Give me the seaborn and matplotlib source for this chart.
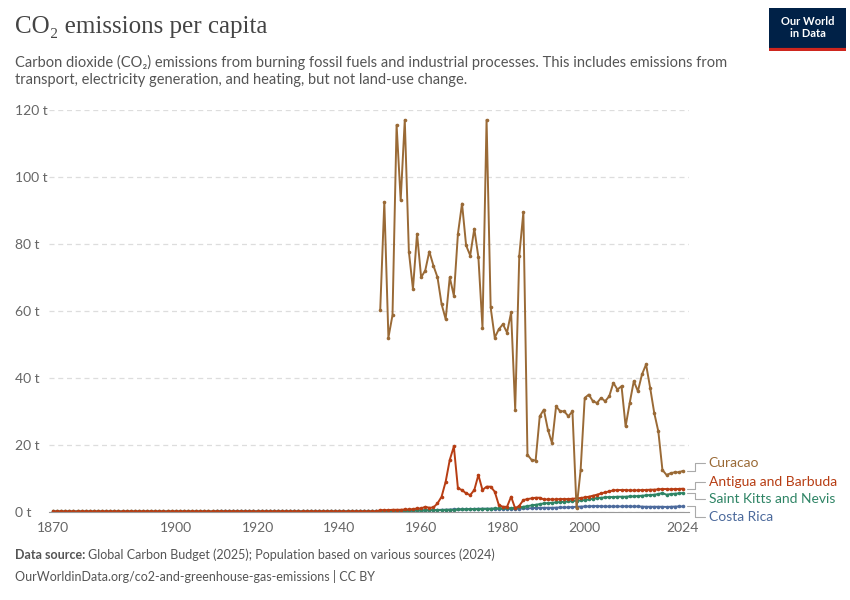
import numpy as np
import pandas as pd
import matplotlib
matplotlib.use("Agg")
import matplotlib.pyplot as plt
import seaborn as sns

curacao_years = list(range(1950, 2025))
curacao = [60.3, 92.5, 52, 58.7, 115.5, 93, 117, 77.7, 66.5, 83, 70, 72, 77.7, 73.5, 70, 62, 57.5, 70, 64.5, 83,
           92, 79.5, 76.5, 84.5, 76, 55, 117, 61, 52, 54.5, 56, 53.5, 59.5, 30.5, 76.5, 89.5, 17, 15.5, 15.3, 28.5,
           30.5, 24.5, 20.5, 31.5, 30, 30, 28.5, 30, 1, 12.5, 34, 35, 33, 32.5, 34, 33, 34.5, 38.5, 36.5, 37.5,
           25.5, 32.5, 39, 36, 41, 44, 37, 29.5, 24, 12.5, 11, 11.5, 11.8, 11.8, 12.2]

years = list(range(1870, 2025))
antigua_late = [0.5, 0.5, 0.5, 0.6, 0.6, 0.6, 0.7, 0.7, 0.8, 1.0, 1.0, 1.5, 1.2, 1.3, 2.5, 4.5, 9, 15.5, 19.5, 7,
                6.5, 5.5, 5, 6.5, 11, 6.5, 7.5, 7.5, 6, 2, 1.5, 1.5, 4.5, 1, 1.8, 3.5, 3.8, 4, 4.2, 4.2,
                3.7, 3.7, 3.7, 3.7, 3.8, 3.8, 3.8, 3.9, 4.0, 4.1, 4.3, 4.5, 4.8, 5.1, 5.5, 5.8, 6.1, 6.4, 6.5, 6.5,
                6.5, 6.4, 6.4, 6.4, 6.5, 6.5, 6.6, 6.6, 6.7, 6.8, 6.8, 6.7, 6.8, 6.8, 6.9]
antigua = [0.1] * 80 + antigua_late
stkitts_late = [0.2, 0.2, 0.2, 0.3, 0.3, 0.3, 0.3, 0.3, 0.4, 0.4, 0.4, 0.4, 0.5, 0.5, 0.5, 0.5, 0.6, 0.6, 0.6, 0.7,
                0.7, 0.7, 0.8, 0.8, 0.8, 0.9, 0.9, 0.9, 1.0, 1.0, 1.0, 1.1, 1.1, 1.2, 1.3, 1.5, 1.7, 1.9, 2.1, 2.3,
                2.5, 2.6, 2.7, 2.8, 2.9, 3.0, 3.1, 3.2, 3.3, 3.4, 3.5, 3.7, 3.9, 4.1, 4.2, 4.3, 4.4, 4.4, 4.5, 4.5,
                4.5, 4.6, 4.6, 4.7, 4.8, 4.9, 5.0, 5.1, 5.3, 5.6, 5.1, 5.3, 5.4, 5.5, 5.6]
stkitts = [0.1] * 80 + stkitts_late
costa_rica = ([0.05] * 40 + [0.15] * 10 + [0.1] * 30 +
              [0.2, 0.2, 0.25, 0.25, 0.3, 0.3, 0.3, 0.35, 0.35, 0.4, 0.4, 0.45, 0.5, 0.5, 0.55, 0.6, 0.6, 0.65, 0.7, 0.7,
               0.75, 0.8, 0.8, 0.85, 0.9, 0.9, 0.9, 0.9, 0.9, 0.9, 0.85, 0.85, 0.85, 0.9, 0.95, 1.0, 1.0, 1.1, 1.15, 1.2,
               1.2, 1.2, 1.2, 1.25, 1.3, 1.3, 1.35, 1.4, 1.5, 1.55, 1.6, 1.6, 1.7, 1.7, 1.65, 1.6, 1.6, 1.6, 1.6, 1.6,
               1.65, 1.6, 1.6, 1.6, 1.55, 1.5, 1.5, 1.5, 1.5, 1.5, 1.45, 1.5, 1.55, 1.6, 1.6])

names = ["Curacao", "Antigua and Barbuda", "Saint Kitts and Nevis", "Costa Rica"]
colors = ["#9a6a36", "#b73d13", "#2e8465", "#4c6a9c"]

frames = [pd.DataFrame({"year": curacao_years, "value": curacao, "country": names[0]}),
          pd.DataFrame({"year": years, "value": antigua, "country": names[1]}),
          pd.DataFrame({"year": years, "value": stkitts, "country": names[2]}),
          pd.DataFrame({"year": years, "value": costa_rica, "country": names[3]})]
df = pd.concat(frames)

sns.set_style("white")
plt.rcParams["font.family"] = ["Lato", "DejaVu Sans"]
fig = plt.figure(figsize=(8.5, 6), dpi=100)
ax = fig.add_axes([0.0576, 0.147, 0.753, 0.670])

for name, col in zip(names[::-1], colors[::-1]):
    sub = df[df.country == name]
    sns.lineplot(data=sub, x="year", y="value", color=col, lw=1.4, marker="o", markersize=2.6,
                 markeredgewidth=0, ax=ax, legend=False)

ax.set_xlim(1869, 2025.5)
ax.set_ylim(0, 120)
ax.set_xticks([1870, 1900, 1920, 1940, 1960, 1980, 2000, 2024])
ax.set_yticks([0, 20, 40, 60, 80, 100, 120])
ax.set_yticklabels([f"{v} t" for v in [0, 20, 40, 60, 80, 100, 120]])
ax.tick_params(axis="both", labelsize=10, colors="#666666", length=0)
ax.tick_params(axis="x", length=4, color="#999999")
ax.set_xlabel(""); ax.set_ylabel("")
for s in ["top", "right", "left"]:
    ax.spines[s].set_visible(False)
ax.spines["bottom"].set_color("#999999")
ax.grid(axis="y", ls=(0, (4, 3)), color="#dddddd", lw=0.9)
ax.set_axisbelow(True)
for lab in ax.get_yticklabels():
    lab.set_horizontalalignment("left")
    lab.set_x(-0.045)

label_y = [14.5, 9.0, 3.7, -1.5]
end_vals = [curacao[-1], antigua[-1], stkitts[-1], costa_rica[-1]]
for name, col, ly, ev in zip(names, colors, label_y, end_vals):
    ax.plot([2025, 2027, 2027, 2029.5], [ev, ev, ly, ly], color="#aaaaaa", lw=0.8, clip_on=False)
    ax.text(2030.3, ly, name, color=col, fontsize=10, va="center", clip_on=False)

fig.text(0.018, 0.945, "CO₂ emissions per capita", fontsize=18, family=["Liberation Serif", "DejaVu Serif"], color="#444444")
fig.text(0.018, 0.86, "Carbon dioxide (CO₂) emissions from burning fossil fuels and industrial processes. This includes emissions from\ntransport, electricity generation, and heating, but not land-use change.",
         fontsize=10.5, color="#555555", linespacing=1.3)
fig.text(0.018, 0.068, "Data source:", fontsize=9, color="#555555", weight="bold")
fig.text(0.103, 0.068, "Global Carbon Budget (2025); Population based on various sources (2024)", fontsize=9, color="#555555")
fig.text(0.018, 0.032, "OurWorldinData.org/co2-and-greenhouse-gas-emissions | CC BY", fontsize=9, color="#555555")

logo = fig.add_axes([0.905, 0.915, 0.09, 0.072])
logo.set_facecolor("#002147")
logo.set_xticks([]); logo.set_yticks([])
for s in logo.spines.values():
    s.set_visible(False)
logo.axhline(0.02, color="#ce261e", lw=3)
logo.text(0.5, 0.55, "Our World\nin Data", color="white", ha="center", va="center", fontsize=8, weight="bold",
          transform=logo.transAxes, linespacing=1.1)

fig.savefig("out.png", dpi=100)
